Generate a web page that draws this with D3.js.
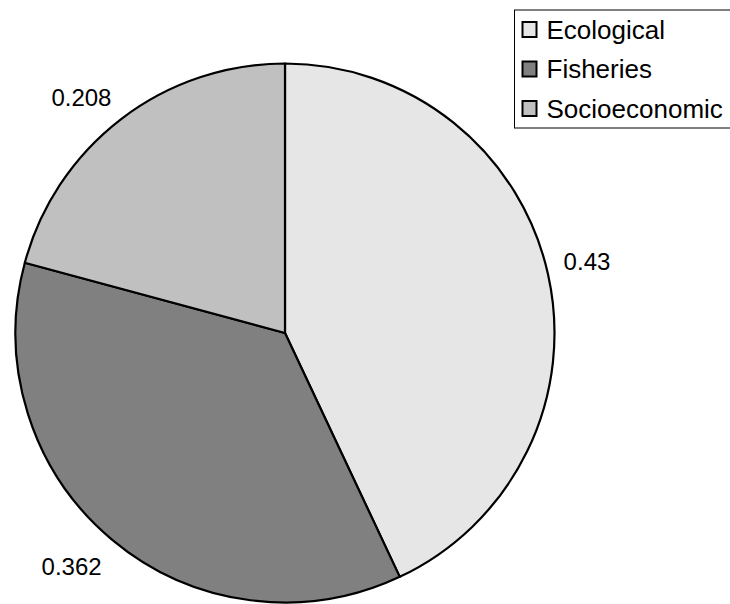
<!DOCTYPE html>
<html>
<head>
<meta charset="utf-8">
<script src="https://cdn.jsdelivr.net/npm/d3@7"></script>
<style>
  html, body { margin: 0; padding: 0; background: #fff; }
  svg { display: block; font-family: "Liberation Sans", Arial, sans-serif; }
</style>
</head>
<body>
<svg id="chart"></svg>
<script>
// Data
const categories = ["Ecological", "Fisheries", "Socioeconomic"];
const shares = [0.43, 0.362, 0.208];
const labels = ["0.43", "0.362", "0.208"];
const fills = ["#e6e6e6", "#808080", "#c0c0c0"];

const width = 730;
const height = 604;
const cx = 285;
const cy = 333;
const radius = 269.5;

const svg = d3.select("#chart")
  .attr("width", width)
  .attr("height", height);

const data = categories.map((c, i) => ({ name: c, value: shares[i], label: labels[i], fill: fills[i] }));

// Pie starts at 12 o'clock, going clockwise, no sorting
const pie = d3.pie().sort(null).value((d) => d.value);
const arcs = pie(data);

const arc = d3.arc().innerRadius(0).outerRadius(radius);
const labelArc = d3.arc().innerRadius(radius + 16).outerRadius(radius + 16);

const g = svg.append("g").attr("transform", `translate(${cx},${cy})`);

g.selectAll("path.slice")
  .data(arcs)
  .enter()
  .append("path")
  .attr("class", "slice")
  .attr("d", arc)
  .attr("fill", (d) => d.data.fill)
  .attr("stroke", "#000")
  .attr("stroke-width", 2.2)
  .attr("stroke-linejoin", "round");

// value labels outside the pie, pushed away from the edge like Excel does
const labelFont = 24;
g.selectAll("text.value")
  .data(arcs)
  .enter()
  .append("text")
  .attr("class", "value")
  .attr("font-size", labelFont)
  .attr("fill", "#000")
  .text((d) => d.data.label)
  .each(function (d) {
    const [px, py] = labelArc.centroid(d);
    const w = this.getComputedTextLength();
    const h = labelFont;
    const tx = px + Math.sign(px) * w / 2;
    const ty = py + Math.sign(py) * h / 2 + 3;
    d3.select(this)
      .attr("x", tx)
      .attr("y", ty)
      .attr("text-anchor", "middle")
      .attr("dominant-baseline", "central");
  });

// Legend
const legend = svg.append("g").attr("transform", "translate(514.5,10)");

legend.append("rect")
  .attr("x", 0)
  .attr("y", 0)
  .attr("width", 240)
  .attr("height", 118)
  .attr("fill", "#fff")
  .attr("stroke", "#000")
  .attr("stroke-width", 1);

const rowY = d3.scalePoint().domain(categories).range([20, 99]);

const rows = legend.selectAll("g.row")
  .data(data)
  .enter()
  .append("g")
  .attr("class", "row")
  .attr("transform", (d) => `translate(0,${rowY(d.name)})`);

rows.append("rect")
  .attr("x", 8)
  .attr("y", -8)
  .attr("width", 14)
  .attr("height", 15)
  .attr("fill", (d) => d.fill)
  .attr("stroke", "#000")
  .attr("stroke-width", 2);

rows.append("text")
  .attr("x", 32)
  .attr("y", 8.5)
  .attr("font-size", 26)
  .attr("fill", "#000")
  .text((d) => d.name);
</script>
</body>
</html>
